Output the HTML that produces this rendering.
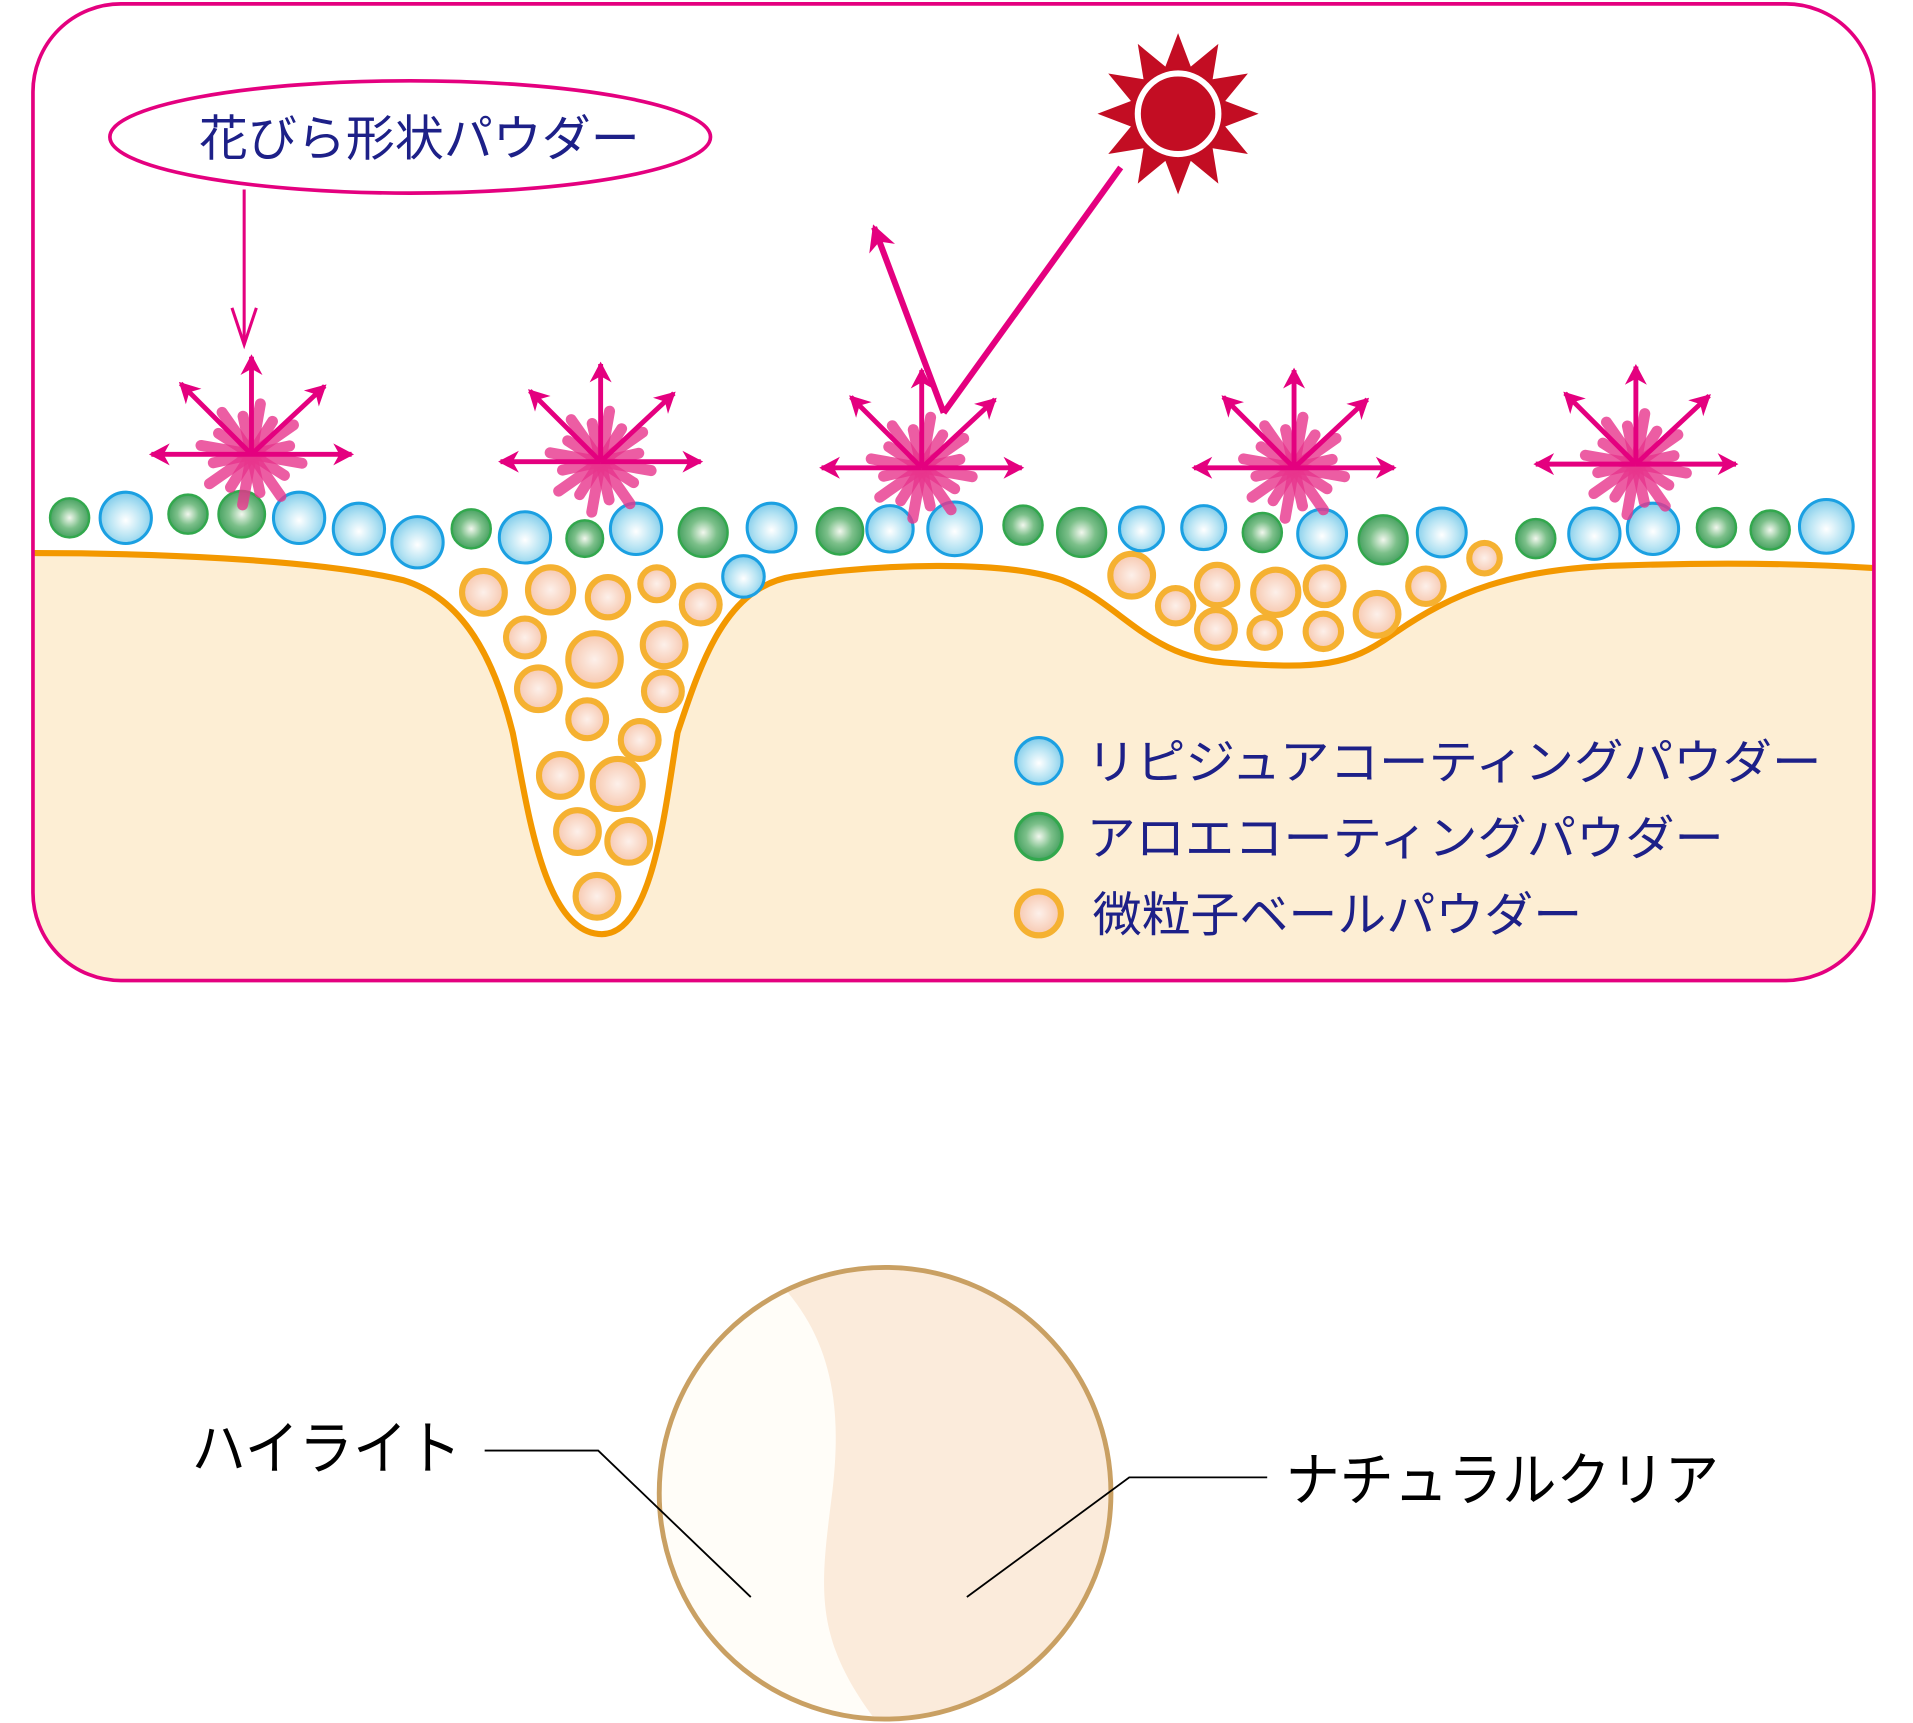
<!DOCTYPE html>
<html><head><meta charset="utf-8"><style>
html,body{margin:0;padding:0;background:#fff;}
svg{display:block;}
.jp{font-family:"Liberation Sans","Noto Sans CJK JP",sans-serif;}
</style></head><body>
<svg id="s" width="1913" height="1723" viewBox="0 0 1567 1411" xmlns="http://www.w3.org/2000/svg">
<defs>
<radialGradient id="gb" cx="0.5" cy="0.55" r="0.55"><stop offset="0" stop-color="#ffffff"/><stop offset="0.6" stop-color="#b5e3f3"/><stop offset="1" stop-color="#7fcbea"/></radialGradient>
<radialGradient id="gg" cx="0.5" cy="0.5" r="0.55"><stop offset="0" stop-color="#f2f7ee"/><stop offset="0.5" stop-color="#7cc08a"/><stop offset="1" stop-color="#3e9c5a"/></radialGradient>
<radialGradient id="go" cx="0.5" cy="0.5" r="0.55"><stop offset="0" stop-color="#fdf0ea"/><stop offset="1" stop-color="#f6c3a8"/></radialGradient>
<marker id="ah" viewBox="-16 -10 18 20" markerWidth="5" markerHeight="5" refX="0" refY="0" orient="auto" markerUnits="strokeWidth">
<path d="M2,0 L-15,-9 L-10,0 L-15,9 Z" fill="#e4007f"/></marker>
<clipPath id="cc"><circle cx="725" cy="1223" r="185"/></clipPath>
</defs>
<rect x="27" y="3" width="1508" height="800" rx="72" fill="#fff" stroke="none"/>
<clipPath id="fr"><rect x="27" y="3" width="1508" height="800" rx="72"/></clipPath>
<path clip-path="url(#fr)" d="M0,453 C120,452 260,458 330,475 C380,490 405,540 420,600 C432,660 445,765 493,765 C535,765 545,660 555,600 C575,540 595,480 650,472 C720,462 820,458 870,475 C920,495 940,540 1010,543 C1080,548 1105,545 1140,520 C1190,485 1240,465 1330,463 C1420,460 1500,462 1560,467 L1560,810 L0,810 Z" fill="#fdeed4"/>
<path clip-path="url(#fr)" d="M0,453 C120,452 260,458 330,475 C380,490 405,540 420,600 C432,660 445,765 493,765 C535,765 545,660 555,600 C575,540 595,480 650,472 C720,462 820,458 870,475 C920,495 940,540 1010,543 C1080,548 1105,545 1140,520 C1190,485 1240,465 1330,463 C1420,460 1500,462 1560,467" fill="none" stroke="#f39800" stroke-width="5"/>
<rect x="27" y="3" width="1508" height="800" rx="72" fill="none" stroke="#e4007f" stroke-width="3"/>
<g id="parts"></g>
<g id="bursts"></g>
<ellipse cx="336" cy="112" rx="246" ry="46" fill="#fff" stroke="#e4007f" stroke-width="3"/>
<text x="163" y="127" textLength="361" lengthAdjust="spacingAndGlyphs" class="jp" font-size="40" fill="#1d2088">花びら形状パウダー</text>
<line x1="200" y1="155" x2="200" y2="282" stroke="#e4007f" stroke-width="2.5"/>
<path d="M190,252 L200,282 L210,252" fill="none" stroke="#e4007f" stroke-width="2.5"/>
<g id="sun"></g>
<line x1="918" y1="137" x2="773" y2="338" stroke="#e4007f" stroke-width="5"/>
<line x1="773" y1="338" x2="716" y2="186" stroke="#e4007f" stroke-width="5" marker-end="url(#ah)"/>
<circle cx="851" cy="623" r="19" fill="url(#gb)" stroke="#1ba0e2" stroke-width="2.5"/>
<circle cx="851" cy="685" r="19" fill="url(#gg)" stroke="#32a84d" stroke-width="2.5"/>
<circle cx="851" cy="748" r="18" fill="url(#go)" stroke="#f5b131" stroke-width="5"/>
<g class="jp" font-size="39" fill="#1d2088">
<text x="890" y="638" textLength="602" lengthAdjust="spacingAndGlyphs">リピジュアコーティングパウダー</text>
<text x="890" y="700" textLength="522" lengthAdjust="spacingAndGlyphs">アロエコーティングパウダー</text>
<text x="895" y="763" textLength="401" lengthAdjust="spacingAndGlyphs">微粒子ベールパウダー</text>
</g>
<circle cx="725" cy="1223" r="185" fill="#fbebdb"/>
<path clip-path="url(#cc)" d="M500,1000 L645,1058 C680,1100 690,1150 682,1220 C672,1300 665,1340 718,1410 L500,1420 Z" fill="#fffdf8"/>
<circle cx="725" cy="1223" r="185" fill="none" stroke="#c9a063" stroke-width="4"/>
<polyline points="397,1188 490,1188 615,1308" fill="none" stroke="#000" stroke-width="1.5"/>
<polyline points="1038,1210 925,1210 792,1308" fill="none" stroke="#000" stroke-width="1.5"/>
<g class="jp" font-size="48" fill="#000">
<text x="157" y="1203" textLength="221" lengthAdjust="spacingAndGlyphs">ハイライト</text>
<text x="1053" y="1229" textLength="355" lengthAdjust="spacingAndGlyphs">ナチュラルクリア</text>
</g>
</svg>
<script>
var NS="http://www.w3.org/2000/svg";
function el(t,a,p){var e=document.createElementNS(NS,t);for(var k in a)e.setAttribute(k,a[k]);p.appendChild(e);return e;}
var parts=document.getElementById('parts');
var O=[[396,485,20],[451,483,21],[498,489,19],[538,478,16],[574,495,18],[430,522,18],[487,540,24],[544,528,20],[441,564,20],[543,566,18],[481,589,18],[524,606,18],[459,635,20],[506,642,23],[473,681,20],[515,689,20],[489,734,20],[927,471,20],[963,496,17],[997,479,19],[1045,485,21],[1085,480,18],[996,515,18],[1036,518,15],[1084,517,17],[1128,503,20],[1168,480,17],[1216,457,15]];
O.forEach(function(c){el('circle',{cx:c[0],cy:c[1],r:c[2]-2.5,fill:'url(#go)',stroke:'#f5b131','stroke-width':5},parts);});
var B=[[103,424,22],[245,424,22],[294,433,22],[342,444,22],[430,440,22],[521,433,22],[632,432,21],[609,472,18],[729,433,20],[782,433,23],[935,433,19],[986,432,19],[1083,437,21],[1181,436,21],[1306,437,22],[1354,433,22],[1496,431,23]];
B.forEach(function(c){el('circle',{cx:c[0],cy:c[1],r:c[2]-1,fill:'url(#gb)',stroke:'#1ba0e2','stroke-width':2.5},parts);});
var G=[[57,424,17],[154,421,17],[198,421,20],[386,433,17],[479,441,16],[576,436,21],[688,435,20],[838,430,17],[886,436,21],[1034,436,17],[1133,442,21],[1258,441,17],[1406,432,17],[1450,434,17]];
G.forEach(function(c){el('circle',{cx:c[0],cy:c[1],r:c[2]-1,fill:'url(#gg)',stroke:'#32a84d','stroke-width':2},parts);});
var bursts=document.getElementById('bursts');
[[206,372],[492,378],[755,383],[1060,383],[1340,380]].forEach(function(p){
 var x=p[0],y=p[1];
 for(var i=0;i<8;i++){var a=i*22.5+10,L=(i%2?32:42);el('line',{x1:x-L*Math.cos(a*Math.PI/180),y1:y-L*Math.sin(a*Math.PI/180),x2:x+L*Math.cos(a*Math.PI/180),y2:y+L*Math.sin(a*Math.PI/180),stroke:'#e8358d','stroke-width':9,'stroke-linecap':'round',opacity:0.8},bursts);}
 var s={stroke:'#e4007f','stroke-width':4,'marker-end':'url(#ah)'};
 function ar(x1,y1,x2,y2){var o={x1:x1,y1:y1,x2:x2,y2:y2};for(var k in s)o[k]=s[k];el('line',o,bursts);}
 ar(x,y,x-82,y);ar(x,y,x+82,y);ar(x,y,x,y-80);ar(x,y,x-58,y-58);ar(x,y,x+60,y-56);
});
var sun=document.getElementById('sun');var cx=965,cy=93,pts=[];
for(var i=0;i<24;i++){var a=(i*15-90)*Math.PI/180,r=(i%2==0)?66:40;pts.push((cx+r*Math.cos(a)).toFixed(1)+','+(cy+r*Math.sin(a)).toFixed(1));}
el('polygon',{points:pts.join(' '),fill:'#c30d23'},sun);
el('circle',{cx:cx,cy:cy,r:37,fill:'#c30d23'},sun);
el('circle',{cx:cx,cy:cy,r:33,fill:'#c30d23',stroke:'#fff','stroke-width':5},sun);
</script>
</body></html>
